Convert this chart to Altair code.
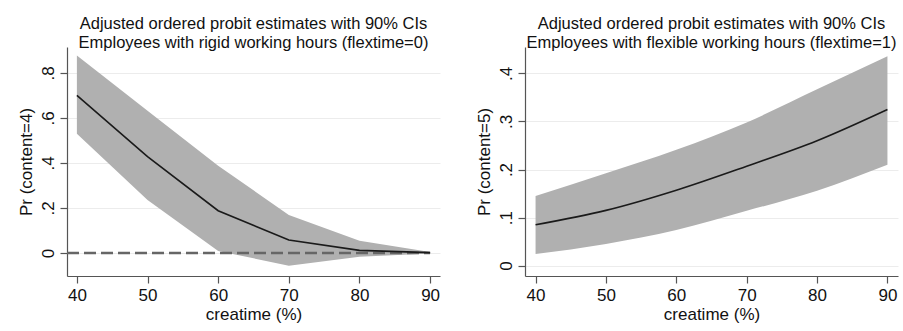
import altair as alt
import pandas as pd

# ---- data ----
creatime = [40, 50, 60, 70, 80, 90]

# left panel: Pr(content=4), flextime=0
left_est = [0.700, 0.428, 0.188, 0.058, 0.012, 0.002]
left_lo = [0.530, 0.236, 0.009, -0.056, -0.017, -0.002]
left_hi = [0.877, 0.632, 0.388, 0.169, 0.055, 0.005]

# right panel: Pr(content==5), flextime=1
right_est = [0.085, 0.115, 0.157, 0.207, 0.260, 0.325]
right_lo = [0.024, 0.045, 0.074, 0.114, 0.156, 0.210]
right_hi = [0.145, 0.192, 0.241, 0.298, 0.367, 0.436]

ref_x = [38.6, 90]
ref_y = [0, 0]

left_yticks = [0, 0.2, 0.4, 0.6, 0.8]
right_yticks = [0, 0.1, 0.2, 0.3, 0.4]
xticks = [40, 50, 60, 70, 80, 90]

left_title = ["Adjusted ordered probit estimates with 90% CIs",
              "Employees with rigid working hours (flextime=0)"]
right_title = ["Adjusted ordered probit estimates with 90% CIs",
               "Employees with flexible working hours (flextime=1)"]

FONT = "Liberation Sans"
W, H = 373, 229

df_left = pd.DataFrame({"x": creatime, "est": left_est, "lo": left_lo, "hi": left_hi})
df_right = pd.DataFrame({"x": creatime, "est": right_est, "lo": right_lo, "hi": right_hi})
df_ref = pd.DataFrame({"x": ref_x, "y": ref_y})

label_expr = "datum.value == 0 ? '0' : replace(format(datum.value, '.1f'), '0.', '.')"


def panel(df, ytitle, ydomain, yticks, title, xdomain, interp, ref=None):
    xscale = alt.Scale(domain=xdomain, nice=False, zero=False)
    yscale = alt.Scale(domain=ydomain, nice=False, zero=False)
    xaxis = alt.Axis(values=xticks, title="creatime (%)", grid=False)
    yaxis = alt.Axis(values=yticks, title=ytitle, grid=True, labelExpr=label_expr,
                     labelAngle=-90, labelAlign="center", labelBaseline="bottom")
    base = alt.Chart(df)
    band = base.mark_area(color="#b0b0b0", opacity=1, interpolate=interp).encode(
        x=alt.X("x:Q", scale=xscale, axis=xaxis),
        y=alt.Y("lo:Q", scale=yscale, axis=yaxis),
        y2="hi:Q",
    )
    line = base.mark_line(color="#1a1a1a", strokeWidth=1.6, interpolate=interp).encode(
        x=alt.X("x:Q", scale=xscale),
        y=alt.Y("est:Q", scale=yscale),
    )
    layers = [band]
    if ref is not None:
        rl = alt.Chart(ref).mark_line(color="#666666", strokeWidth=2.4,
                                      strokeDash=[12, 5]).encode(
            x=alt.X("x:Q", scale=xscale),
            y=alt.Y("y:Q", scale=yscale),
        )
        layers.append(rl)
    layers.append(line)
    return alt.layer(*layers).properties(
        width=W, height=H,
        title=alt.TitleParams(text=title, anchor="middle", fontSize=16.5,
                              font=FONT, fontWeight="normal", color="#111",
                              lineHeight=19, offset=-4),
    )


left = panel(df_left, "Pr (content=4)", [-0.102, 0.915], left_yticks, left_title,
             [38.6, 91.4], "linear", df_ref)
right = panel(df_right, "Pr (content=5)", [-0.0216, 0.455], right_yticks, right_title,
              [38.5, 91.5], "monotone")

chart = alt.hconcat(left, right, spacing=34).properties(
    padding={"left": 17, "top": 15, "right": 5, "bottom": 5},
    background="white",
).configure_view(stroke=None).configure_axis(
    labelFont=FONT, titleFont=FONT, labelFontSize=17, titleFontSize=17,
    labelColor="#111", titleColor="#111", titleFontWeight="normal",
    domainColor="#555", tickColor="#555", domainWidth=1.2, tickWidth=1.2,
    tickSize=7, gridColor="#ececec", gridWidth=1,
).configure_axisX(labelPadding=4, titlePadding=3).configure_axisY(
    labelPadding=3, titlePadding=4)

chart.save("out.html", embed_options={"renderer": "svg", "actions": False})
